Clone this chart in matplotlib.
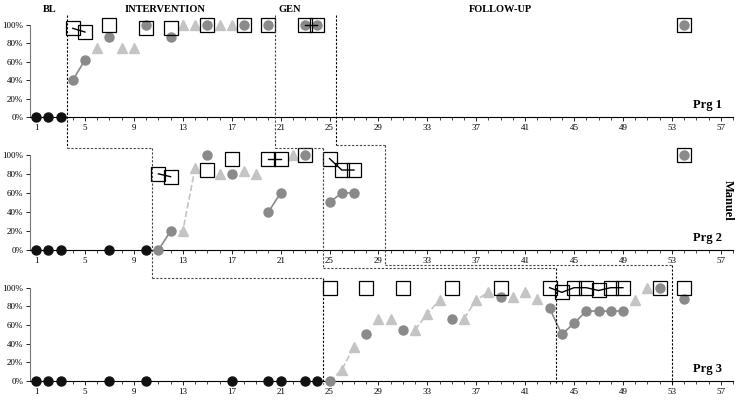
import matplotlib
matplotlib.use("Agg")
import matplotlib.pyplot as plt
from matplotlib.lines import Line2D

plt.rcParams['font.family'] = ['Liberation Serif', 'DejaVu Serif']

# ---- data ----
p1_bl_x = [1, 2, 3]
p1_circ_x = [4, 5, 7, 10, 12, 15, 18, 20, 23, 24, 54]
p1_circ_y = [40, 62, 87, 100, 87, 100, 100, 100, 100, 100, 100]
p1_tri_x = [6, 8, 9, 13, 14, 16, 17]
p1_tri_y = [75, 75, 75, 100, 100, 100, 100]
p1_sq_x = [4, 5, 7, 10, 12, 15, 18, 20, 23, 24, 54]
p1_sq_y = [96, 92, 100, 96, 96, 100, 100, 100, 100, 100, 100]
p1_circ_lines = [[4, 5]]
p1_sq_lines = [[4, 5], [23, 24]]
p1_tri_lines = []

p2_bl_x = [1, 2, 3, 7, 10]
p2_circ_x = [11, 12, 15, 17, 20, 21, 23, 25, 26, 27, 54]
p2_circ_y = [0, 20, 100, 80, 40, 60, 100, 50, 60, 60, 100]
p2_tri_x = [13, 14, 16, 18, 19, 22]
p2_tri_y = [20, 86, 80, 83, 80, 100]
p2_sq_x = [11, 12, 15, 17, 20, 21, 23, 25, 26, 27, 54]
p2_sq_y = [80, 77, 84, 96, 96, 96, 100, 96, 84, 84, 100]
p2_circ_lines = [[11, 12], [20, 21], [25, 26, 27]]
p2_sq_lines = [[11, 12], [20, 21], [25, 26, 27]]
p2_tri_lines = [[12, 13, 14]]

p3_bl_x = [1, 2, 3, 7, 10, 17, 20, 21, 23, 24]
p3_circ_x = [25, 28, 31, 35, 39, 43, 44, 45, 46, 47, 48, 49, 52, 54]
p3_circ_y = [0, 50, 55, 67, 90, 78, 50, 62, 75, 75, 75, 75, 100, 88]
p3_tri_x = [26, 27, 29, 30, 32, 33, 34, 36, 37, 38, 40, 41, 42, 50, 51]
p3_tri_y = [12, 37, 66, 66, 55, 72, 87, 67, 87, 95, 90, 95, 88, 87, 100]
p3_sq_x = [25, 28, 31, 35, 39, 43, 44, 45, 46, 47, 48, 49, 52, 54]
p3_sq_y = [100, 100, 100, 100, 100, 100, 95, 100, 100, 97, 100, 100, 100, 100]
p3_circ_lines = [[43, 44, 45, 46, 47, 48, 49]]
p3_sq_lines = [[43, 44, 45, 46, 47, 48, 49]]
p3_tri_lines = [[25, 26, 27], [32, 33, 34], [36, 37, 38]]

x_ticks = list(range(1, 58, 4))
y_ticks = [0, 20, 40, 60, 80, 100]
y_labels = ["0%", "20%", "40%", "60%", "80%", "100%"]
phase_labels = ["BL", "INTERVENTION", "GEN", "FOLLOW-UP"]

panels = [
    (p1_bl_x, p1_circ_x, p1_circ_y, p1_tri_x, p1_tri_y, p1_sq_x, p1_sq_y, p1_circ_lines, p1_sq_lines, p1_tri_lines, "Prg 1"),
    (p2_bl_x, p2_circ_x, p2_circ_y, p2_tri_x, p2_tri_y, p2_sq_x, p2_sq_y, p2_circ_lines, p2_sq_lines, p2_tri_lines, "Prg 2"),
    (p3_bl_x, p3_circ_x, p3_circ_y, p3_tri_x, p3_tri_y, p3_sq_x, p3_sq_y, p3_circ_lines, p3_sq_lines, p3_tri_lines, "Prg 3"),
]

W, H = 737, 401
fig = plt.figure(figsize=(W / 100, H / 100), dpi=100)
boxes = [(30, 20, 733, 120), (30, 150, 733, 253), (30, 283, 733, 384)]
axes = []
GREY = "#8a8a8a"
LIGHT = "#c4c4c4"
for (l, t, r, b), pan in zip(boxes, panels):
    ax = fig.add_axes([l / W, 1 - b / H, (r - l) / W, (b - t) / H])
    axes.append(ax)
    bl_x, cx, cy, tx, ty, sx, sy, cl, sl, tl, name = pan
    cmap = dict(zip(cx, cy)); smap = dict(zip(sx, sy)); tmap = dict(zip(tx, ty))
    for seg in tl:
        ys = [tmap.get(x, cmap.get(x)) for x in seg]
        ax.plot(seg, ys, ls="--", color=LIGHT, lw=1.2, zorder=2)
    for seg in cl:
        ax.plot(seg, [cmap[x] for x in seg], color=GREY, lw=1.2, zorder=2)
    ax.plot(bl_x, [0] * len(bl_x), "o", color="#111111", ms=6.5, zorder=4, clip_on=False)
    ax.plot(tx, ty, "^", color=LIGHT, ms=7, ls="none", zorder=3)
    ax.plot(cx, cy, "o", color=GREY, ms=6.5, ls="none", zorder=3, clip_on=False)
    for seg in sl:
        ax.plot(seg, [smap[x] for x in seg], color="black", lw=1.0, zorder=5)
    ax.plot(sx, sy, "s", mfc="none", mec="black", mew=0.9, ms=9.5, ls="none", zorder=5, clip_on=False)
    ax.set_xlim(0.5, 58)
    ax.set_ylim(-3, 105)
    ax.set_xticks(x_ticks)
    ax.set_xticks(range(1, 59), minor=True)
    ax.set_yticks(y_ticks)
    ax.set_yticklabels(y_labels)
    ax.tick_params(labelsize=6.5, length=3, width=0.6, pad=2)
    ax.tick_params(which="minor", length=2, width=0.5)
    for s in ["top", "right"]:
        ax.spines[s].set_visible(False)
    ax.spines["bottom"].set_position(("data", 0))
    ax.spines["left"].set_bounds(0, 100)
    ax.spines["left"].set_color("#777777")
    ax.text(0.985, 0.12, name, transform=ax.transAxes, ha="right", fontsize=9, fontweight="bold")

def to_fig(ax, x):
    return ax.transData.transform((x, 0))[0] / W

def vline(ax, x, ytop_px, ybot_px, color="black"):
    fx = to_fig(ax, x)
    fig.add_artist(Line2D([fx, fx], [1 - ytop_px / H, 1 - ybot_px / H], ls=(0, (2, 1.5)), lw=0.8, color=color))

def hline(ax1, x1, ax2, x2, ypx):
    f1 = to_fig(ax1, x1); f2 = to_fig(ax2, x2)
    fig.add_artist(Line2D([f1, f2], [1 - ypx / H] * 2, ls=(0, (2, 1.5)), lw=0.8, color="#444444"))

a1, a2, a3 = axes
vline(a1, 3.5, 15, 148); hline(a1, 3.5, a2, 10.5, 148)
vline(a1, 20.5, 15, 148, "#444444"); hline(a1, 20.5, a2, 24.5, 148)
vline(a1, 25.5, 15, 145); hline(a1, 25.5, a2, 29.5, 145)
vline(a2, 10.5, 148, 278, "#444444"); hline(a2, 10.5, a3, 24.5, 278)
vline(a2, 24.5, 148, 268, "#444444"); hline(a2, 24.5, a3, 43.5, 268)
vline(a2, 29.5, 145, 265, "#444444"); hline(a2, 29.5, a3, 53, 265)
vline(a3, 24.5, 278, 384)
vline(a3, 43.5, 268, 384)
vline(a3, 53, 265, 384)

for lbl, px in zip(phase_labels, [50, 165, 290, 500]):
    fig.text(px / W, 1 - 10 / H, lbl, ha="center", va="center", fontsize=7.5, fontweight="bold")
fig.text(728 / W, 1 - 200 / H, "Manuel", rotation=270, ha="center", va="center", fontsize=9, fontweight="bold")

fig.savefig("out.png", dpi=100)
